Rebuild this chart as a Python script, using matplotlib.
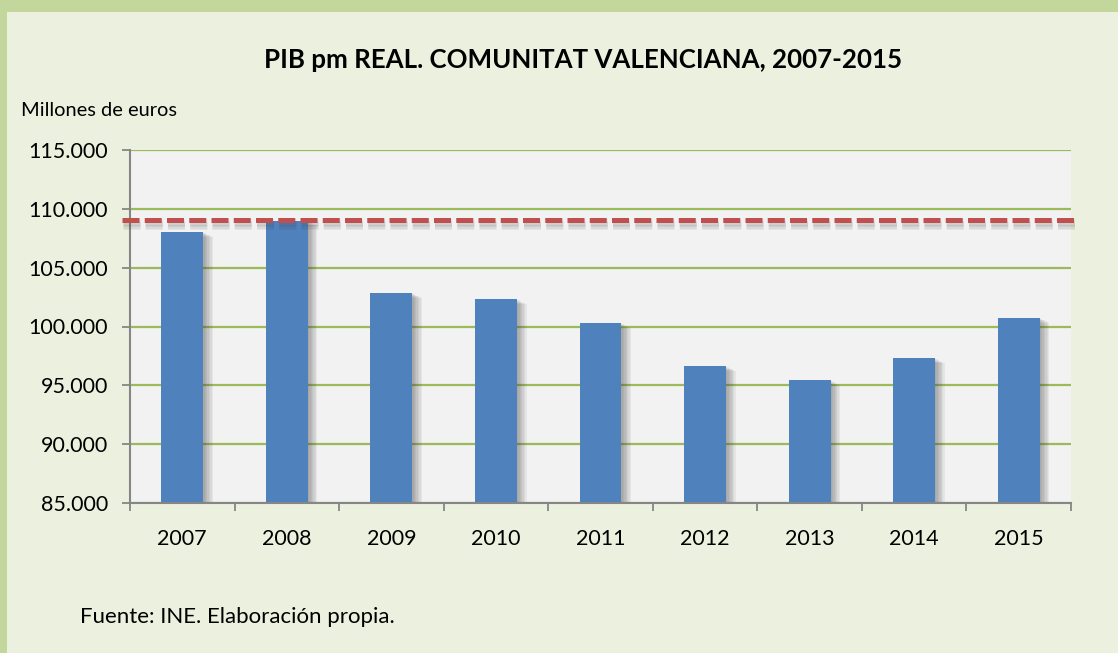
import numpy as np
import matplotlib
matplotlib.use("Agg")
import matplotlib.pyplot as plt
import matplotlib.patheffects as pe
from matplotlib.patches import Rectangle
from matplotlib.ticker import FuncFormatter, FixedLocator

# datos (millones de euros)
anios = ["2007", "2008", "2009", "2010", "2011", "2012", "2013", "2014", "2015"]
pib = [108030, 109000, 102850, 102330, 100290, 96650, 95450, 97320, 100750]
nivel_2008 = 109050
y_ticks = [85000, 90000, 95000, 100000, 105000, 110000, 115000]

titulo = "PIB pm REAL. COMUNITAT VALENCIANA, 2007-2015"
unidad = "Millones de euros"
fuente = "Fuente: INE. Elaboración propia."

plt.rcParams['font.family'] = ['Lato', 'DejaVu Sans']

fig = plt.figure(figsize=(11.18, 6.53), dpi=100)
fig.patch.set_facecolor("#ebf1de")

# green frame on top and left
fig.add_artist(Rectangle((0, 1 - 12 / 653), 1, 12 / 653, transform=fig.transFigure,
                         facecolor="#c3d69b", edgecolor="none", zorder=0))
fig.add_artist(Rectangle((0, 0), 7 / 1118, 1, transform=fig.transFigure,
                         facecolor="#c3d69b", edgecolor="none", zorder=0))

ax = fig.add_axes([130 / 1118, 1 - 503 / 653, 941 / 1118, 353 / 653])
ax.set_facecolor("#f2f2f2")

# soft shadow: a few stacked offsets
bar_shadow = [pe.SimplePatchShadow(offset=(d, -d * 0.5), shadow_rgbFace="#404040", alpha=0.07)
              for d in (1, 2, 3, 4, 5, 6, 7)] + [pe.Normal()]
line_shadow = [pe.SimpleLineShadow(offset=(1, -d), shadow_color="#404040", alpha=0.07)
               for d in (1, 2, 3, 4, 5)] + [pe.Normal()]

x = np.arange(len(anios))
bars = ax.bar(x, pib, width=0.4, color="#4f81bd", zorder=3)
for b in bars:
    b.set_path_effects(bar_shadow)

ax.set_xlim(-0.5, len(anios) - 0.5)
ax.set_ylim(y_ticks[0], y_ticks[-1])

ax.axhline(nivel_2008, xmin=-0.009, xmax=1.004, clip_on=False, color="#c0504d",
           linewidth=3.6, linestyle=(0, (3.4, 1.05)), zorder=5, path_effects=line_shadow)

ax.yaxis.set_major_locator(FixedLocator(y_ticks))
ax.yaxis.set_major_formatter(FuncFormatter(lambda v, p: f"{v:,.0f}".replace(",", ".")))
ax.grid(axis="y", color="#9bbb59", linewidth=1.6, zorder=1)
ax.set_axisbelow(True)

ax.set_xticks(x)
ax.set_xticklabels(anios)
ax.set_xticks(np.arange(-0.5, len(anios), 1.0), minor=True)
ax.tick_params(axis="x", which="major", length=0, pad=19, labelsize=15.5)
ax.tick_params(axis="x", which="minor", length=6, width=1.3, color="#868686", direction="out")
ax.tick_params(axis="y", length=6, width=1.3, color="#868686", pad=10, labelsize=15.5)

for s in ["top", "right"]:
    ax.spines[s].set_visible(False)
for s in ["left", "bottom"]:
    ax.spines[s].set_color("#868686")
    ax.spines[s].set_linewidth(1.5)
    ax.spines[s].set_zorder(4)

fig.text(583 / 1118, 1 - 60 / 653, titulo, ha="center", va="center",
         fontsize=18.6, fontweight="bold")
fig.text(21 / 1118, 1 - 110 / 653, unidad, ha="left", va="center", fontsize=14.4)
fig.text(80 / 1118, 1 - 617 / 653, fuente, ha="left", va="center", fontsize=16)

fig.savefig("out.png", dpi=100, facecolor=fig.get_facecolor())
